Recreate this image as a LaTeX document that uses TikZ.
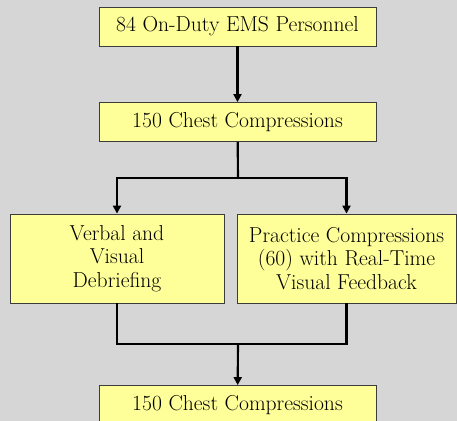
\documentclass[tikz,border=0pt]{standalone}
\usepackage{tikz}
\usetikzlibrary{arrows.meta, positioning, calc}
\definecolor{bgray}{RGB}{214,214,214}
\definecolor{boxyellow}{RGB}{255,255,153}
\definecolor{boxedge}{RGB}{60,60,60}

\begin{document}
\begin{tikzpicture}[
  x=0.75pt, y=-0.75pt,
  box/.style={rectangle, draw=boxedge, line width=0.6pt, fill=boxyellow,
              minimum width=207.75pt, minimum height=29.25pt,
              font=\fontsize{16.2}{17.6}\selectfont, align=center, inner sep=2pt},
  tallbox/.style={box, minimum height=66.75pt},
  arr/.style={-{Triangle[length=6pt,width=6pt]}, line width=1.6pt},
  link/.style={line width=1.6pt},
]
% background
\fill[bgray] (0,0) rectangle (457,421);
\useasboundingbox (0,0) rectangle (457,421);

% MAIN FLOW
\node[box] (staff)  at (237.5,26.5) {84 On-Duty EMS Personnel};
\node[box] (pre)    at (237.5,122)  {150 Chest Compressions};
\node[tallbox, minimum width=160.5pt]  (verbal)   at (117,258.5)
  {Verbal and\\Visual\\Debriefing};
\node[tallbox, minimum width=164.25pt] (practice) at (346.5,258.5)
  {Practice Compressions\\(60) with Real-Time\\Visual Feedback};
\node[box] (post)   at (237.5,405)  {150 Chest Compressions};

\coordinate (split) at (238,178);
\coordinate (join)  at (238,344);

\draw[arr] (staff) -- (pre);
\draw[link] (pre) -- (split);
\draw[arr] (split) -| (verbal);
\draw[arr] (split) -| (practice);
\draw[link] (verbal) |- (join);
\draw[link] (practice) |- (join);
\draw[arr] (join) -- (post);
\end{tikzpicture}
\end{document}
